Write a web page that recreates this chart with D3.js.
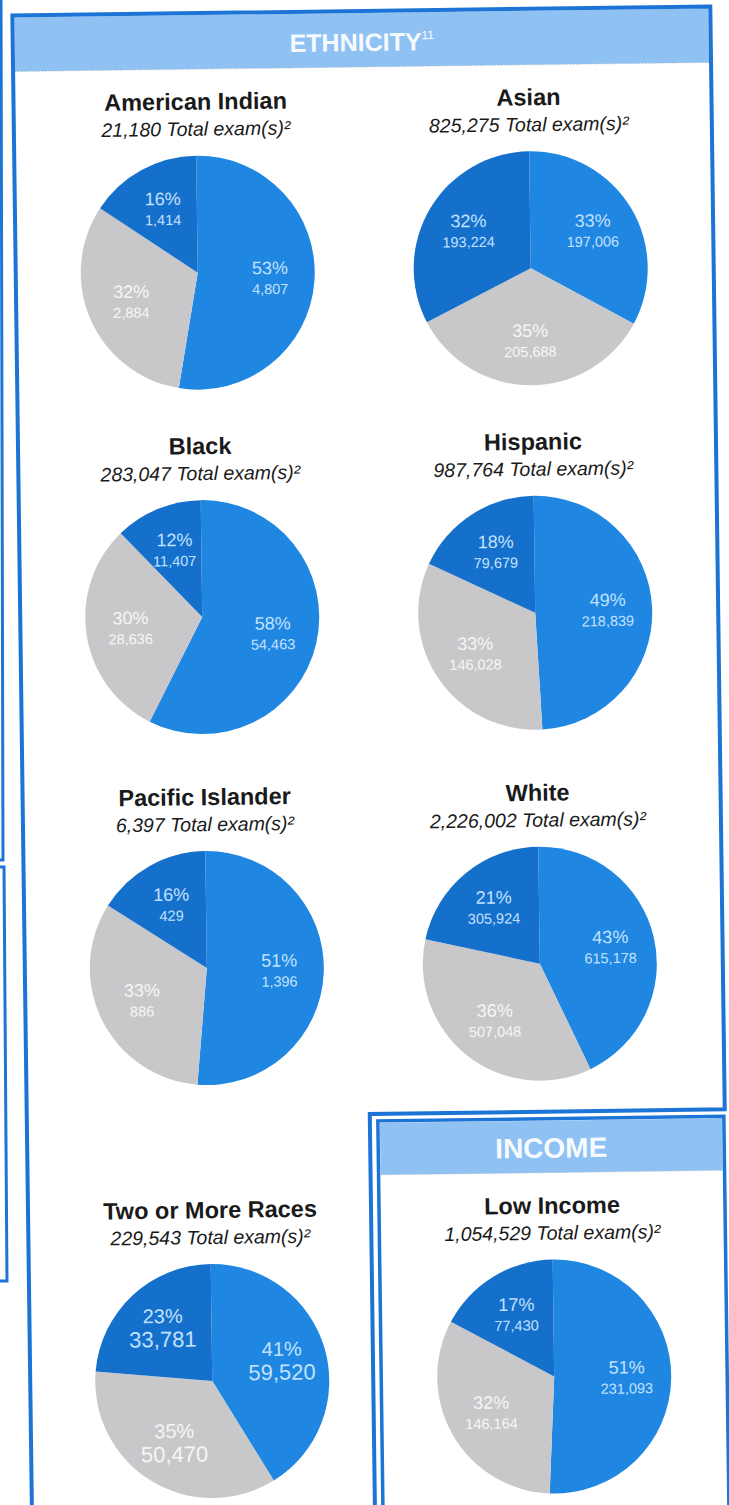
<!DOCTYPE html>
<html><head><meta charset="utf-8">
<script src="https://cdn.jsdelivr.net/npm/d3@7"></script>
<style>body{margin:0;background:#fff}svg{display:block}</style></head>
<body><svg id="c" width="729" height="1505"></svg>
<script>
// ---------- DATA ----------
const groups = ["American Indian","Asian","Black","Hispanic","Pacific Islander","White","Two or More Races","Low Income"];
const totals = [21180, 825275, 283047, 987764, 6397, 2226002, 229543, 1054529];
const seriesNames = ["blue","gray","dark"];
const blueValues = [4807, 197006, 54463, 218839, 1396, 615178, 59520, 231093];
const bluePct    = [53, 33, 58, 49, 51, 43, 41, 51];
const grayValues = [2884, 205688, 28636, 146028, 886, 507048, 50470, 146164];
const grayPct    = [32, 35, 30, 33, 33, 36, 35, 32];
const darkValues = [1414, 193224, 11407, 79679, 429, 305924, 33781, 77430];
const darkPct    = [16, 32, 12, 18, 16, 21, 23, 17];
const sectionTitles = ["ETHNICITY", "INCOME"];

// ---------- STYLE / LAYOUT ----------
const C = {
  border: "#1b74d6", band: "#8fc2f3",
  blue: "#1f87e2", gray: "#c8c8ca", dark: "#1570cc",
  lblBlue: "#c2e1ff", lblGray: "#f6f6f6"
};
const FONT = "Liberation Sans, Arial, sans-serif";
const R = 117;
const colX = [204, 537];
const rowY = [270.5, 615, 966, 1379];
const incomeX = 546;

const svg = d3.select("#c");
const fmt = d3.format(",");

// left page fragments (scan)
svg.append("path").attr("d","M1,0 L3,860 L0,860").attr("fill","none").attr("stroke",C.border).attr("stroke-width",3);
svg.append("path").attr("d","M0,867 L4,867 L7,1281 L0,1281").attr("fill","none").attr("stroke",C.border).attr("stroke-width",3);

const g = svg.append("g").attr("transform","rotate(-0.75,365,750)");

// Ethnicity box
g.append("rect").attr("x",24).attr("y",13).attr("width",694).attr("height",54).attr("fill",C.band);
g.append("line").attr("x1",24).attr("x2",718).attr("y1",67).attr("y2",67).attr("stroke","#a9b6c4").attr("stroke-dasharray","1,2");
g.append("path").attr("d","M22,1620 V11 H720 V1114 H365 V1620")
  .attr("fill","none").attr("stroke",C.border).attr("stroke-width",4);
const t1 = g.append("text").attr("x",371).attr("y",51).attr("text-anchor","middle")
  .attr("font-family",FONT).attr("font-size",25).attr("font-weight","bold").attr("fill","#f7fafe");
t1.append("tspan").text(sectionTitles[0]);
t1.append("tspan").attr("font-size",12).attr("font-weight","normal").attr("dy",-11).text("11");

// Income box
g.append("rect").attr("x",375).attr("y",1123).attr("width",342).attr("height",52).attr("fill",C.band);
g.append("line").attr("x1",375).attr("x2",717).attr("y1",1175).attr("y2",1175).attr("stroke","#a9b6c4").attr("stroke-dasharray","1,2");
g.append("path").attr("d","M373,1620 V1121 H719 V1620")
  .attr("fill","none").attr("stroke",C.border).attr("stroke-width",3.5);
g.append("text").attr("x",incomeX).attr("y",1160).attr("text-anchor","middle")
  .attr("font-family",FONT).attr("font-size",28).attr("font-weight","bold")
  .attr("fill","#f7fafe").text(sectionTitles[1]);

const pie = d3.pie().sort(null).value(d => d.value);
const arc = d3.arc().innerRadius(0).outerRadius(R);
const labelArc = d3.arc().innerRadius(R*0.62).outerRadius(R*0.62);
const colors = {blue:C.blue, gray:C.gray, dark:C.dark};

groups.forEach((name, i) => {
  const cx = i === 7 ? incomeX : colX[i % 2];
  const cy = rowY[Math.floor(i / 2)];
  const big = name === "Two or More Races";
  const cell = g.append("g").attr("transform", `translate(${cx},${cy})`);

  cell.append("text").attr("y",-163).attr("text-anchor","middle")
    .attr("font-family",FONT).attr("font-size",23.5).attr("font-weight","bold")
    .attr("fill","#1a1a1a").text(name);
  cell.append("text").attr("y",-137).attr("text-anchor","middle")
    .attr("font-family",FONT).attr("font-size",19.5).attr("font-style","italic")
    .attr("fill","#1a1a1a").text(fmt(totals[i]) + " Total exam(s)\u00B2");

  const data = [
    {key:"blue", value: blueValues[i], pct: bluePct[i]},
    {key:"gray", value: grayValues[i], pct: grayPct[i]},
    {key:"dark", value: darkValues[i], pct: darkPct[i]}
  ];
  const arcs = pie(data);
  cell.selectAll("path.s").data(arcs).join("path").attr("class","s")
    .attr("d", arc).attr("fill", d => colors[d.data.key]);

  arcs.forEach(a => {
    const [lx, ly] = labelArc.centroid(a);
    const col = a.data.key === "gray" ? C.lblGray : C.lblBlue;
    const ps = big ? 20 : 18, vs = big ? 22 : 14.5;
    cell.append("text").attr("x",lx).attr("y",ly - (big ? 5 : 4)).attr("text-anchor","middle")
      .attr("font-family",FONT).attr("font-size",ps).attr("fill",col)
      .text(a.data.pct + "%");
    cell.append("text").attr("x",lx).attr("y",ly + (big ? 19 : 16)).attr("text-anchor","middle")
      .attr("font-family",FONT).attr("font-size",vs).attr("fill",col)
      .text(fmt(a.data.value));
  });
});
</script></body></html>
